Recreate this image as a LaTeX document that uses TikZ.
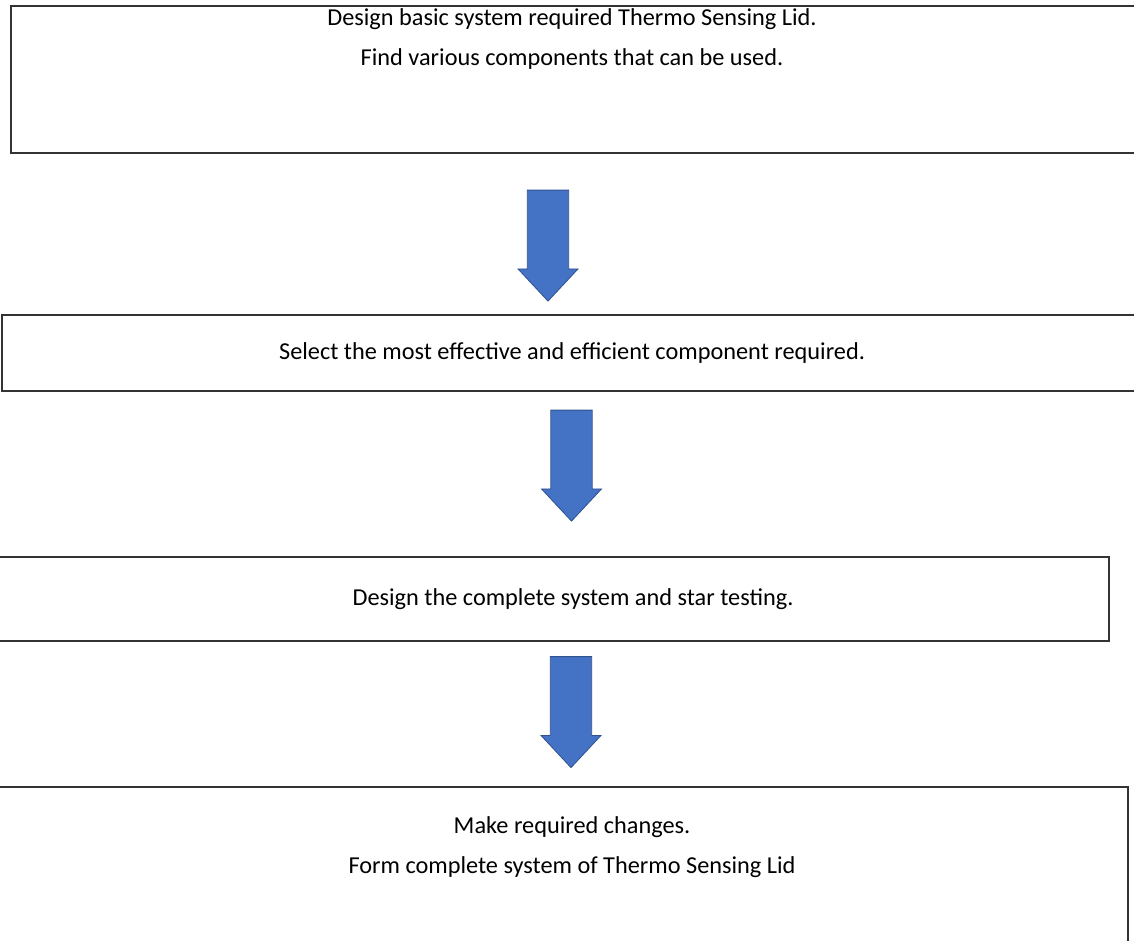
\documentclass[tikz,border=0pt]{standalone}
\usepackage{fontspec}
\setmainfont{Carlito}
\usetikzlibrary{shapes.arrows}

\definecolor{arrowblue}{HTML}{4472C4}
\definecolor{arrowedge}{HTML}{2F528F}

\begin{document}
\begin{tikzpicture}[
    x=1pt, y=-1pt,
    box/.style={draw=black!80, line width=1.5pt, inner sep=0pt, anchor=north west},
    stagetext/.style={align=center, inner sep=0pt, font=\fontsize{24.3}{40}\selectfont},
    downarrow/.style={single arrow, rotate=-90, fill=arrowblue, draw=arrowedge, line width=0.8pt,
      inner sep=15.5pt, minimum height=111pt, minimum width=60pt, single arrow tip angle=86}
  ]

  % Page area, boxes run off the edges
  \clip (0,0) rectangle (1134,940);

  % Stage boxes
  \node[box, minimum width=1140pt, minimum height=147pt] (box1) at (10,5) {};
  \node[box, minimum width=1150pt, minimum height=76pt] (box2) at (1,314) {};
  \node[box, minimum width=1128pt, minimum height=84pt] (box3) at (-20,556) {};
  \node[box, minimum width=1147pt, minimum height=180pt] (box4) at (-20,786) {};

  % Stage texts
  \node[stagetext] (text1) at (572,39) {Design basic system required Thermo Sensing Lid.\\Find various components that can be used.};
  \node[stagetext] (text2) at (572,353) {Select the most effective and efficient component required.};
  \node[stagetext] (text3) at (573,599) {Design the complete system and star testing.};
  \node[stagetext] (text4) at (572,847) {Make required changes.\\Form complete system of Thermo Sensing Lid};

  % Block arrows between the stages
  \node[downarrow] (arrow1) at (548,234.5) {};
  \node[downarrow] (arrow2) at (571.5,454.5) {};
  \node[downarrow] (arrow3) at (571,701) {};

\end{tikzpicture}
\end{document}
